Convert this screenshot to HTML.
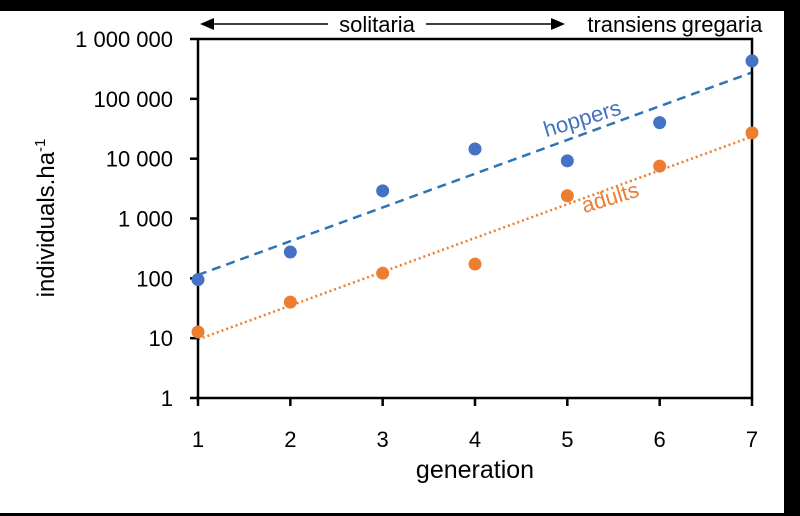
<!DOCTYPE html>
<html><head><meta charset="utf-8"><style>
body{margin:0;background:#000;}
svg{display:block;font-family:"Liberation Sans",sans-serif;}
</style></head><body>
<svg id="c" width="800" height="516" viewBox="0 0 800 516">
<rect x="0" y="11" width="784" height="502" fill="#fff"/>
<g id="g"></g>
</svg>
<script>
const generations=[1,2,3,4,5,6,7];
const hoppers=[95,275,2900,14500,9200,40000,430000];
const adults=[12.7,40,122,173,2400,7500,27000];
const yTicks=[1,10,100,1000,10000,100000,1000000];
const yTickLabels=["1","10","100","1 000","10 000","100 000","1 000 000"];
const L=198,R=752,T=39,B=398;
const x=v=>L+(v-1)*(R-L)/6;
const y=v=>B-Math.log10(v)*(B-T)/6;
const g=document.getElementById('g');
const NS='http://www.w3.org/2000/svg';
function mk(t,a,p){const e=document.createElementNS(NS,t);for(const k in a)e.setAttribute(k,a[k]);(p||g).appendChild(e);return e;}
function fit(vals){const n=vals.length;let sx=0,sy=0,sxx=0,sxy=0;generations.forEach((gx,i)=>{const ly=Math.log10(vals[i]);sx+=gx;sy+=ly;sxx+=gx*gx;sxy+=gx*ly;});const b=(n*sxy-sx*sy)/(n*sxx-sx*sx);const a=(sy-b*sx)/n;return gx=>Math.pow(10,a+b*gx);}
const fh=fit(hoppers),fa=fit(adults);
let e=mk('line',{x1:x(1),y1:y(fh(1)),x2:x(7),y2:y(fh(7)),stroke:'#2E75B6','stroke-width':2.5,'stroke-dasharray':'9 6'});

e=mk('line',{x1:x(1),y1:y(fa(1)),x2:x(7),y2:y(fa(7)),stroke:'#ED7D31','stroke-width':2.5,'stroke-dasharray':'2 3'});

e=mk('rect',{x:L,y:T,width:R-L,height:B-T,fill:'none',stroke:'#000','stroke-width':2.5});

yTicks.forEach((t,i)=>{
 let l=mk('line',{x1:L-8,y1:y(t),x2:L,y2:y(t),stroke:'#000','stroke-width':2.5});
 
 let tx=mk('text',{x:L-25,y:y(t)+8,'text-anchor':'end','font-size':22});tx.textContent=yTickLabels[i];
 
});
generations.forEach(gv=>{
 let l=mk('line',{x1:x(gv),y1:B,x2:x(gv),y2:B+8,stroke:'#000','stroke-width':2.5});
 
 let tx=mk('text',{x:x(gv),y:B+49,'text-anchor':'middle','font-size':22});tx.textContent=gv;
 
});
generations.forEach((gv,i)=>{
 let c=mk('circle',{cx:x(gv),cy:y(hoppers[i]),r:6.5,fill:'#4472C4'});
 
 c=mk('circle',{cx:x(gv),cy:y(adults[i]),r:6.5,fill:'#ED7D31'});
 
});
</script>
<svg width="800" height="516" style="position:absolute;left:0;top:0" viewBox="0 0 800 516">
<text x="582" y="126" font-size="22" fill="#4472C4" text-anchor="middle" transform="rotate(-17 582 118)" font-family="Liberation Sans,sans-serif">hoppers</text>
<text x="610" y="205" font-size="22" fill="#ED7D31" text-anchor="middle" transform="rotate(-17 610 197)" font-family="Liberation Sans,sans-serif">adults</text>
<g>
<line x1="210" y1="24" x2="555" y2="24" stroke="#000" stroke-width="1.5"/>
<polygon points="200,24 214,18 214,30" fill="#000"/>
<polygon points="565,24 551,18 551,30" fill="#000"/>
<rect x="328" y="12" width="98" height="24" fill="#fff"/>
</g>
<g font-family="Liberation Sans,sans-serif" font-size="22">
<text x="377" y="32" text-anchor="middle">solitaria</text>
<text x="632" y="32" text-anchor="middle">transiens</text>
<text x="722" y="32" text-anchor="middle">gregaria</text>
</g>
<text x="475" y="478" font-size="25" text-anchor="middle" font-family="Liberation Sans,sans-serif">generation</text>
<text transform="translate(54 218) rotate(-90)" font-size="24" text-anchor="middle" font-family="Liberation Sans,sans-serif">individuals.ha<tspan dy="-9" font-size="15">-1</tspan></text>
</svg>
</body></html>
